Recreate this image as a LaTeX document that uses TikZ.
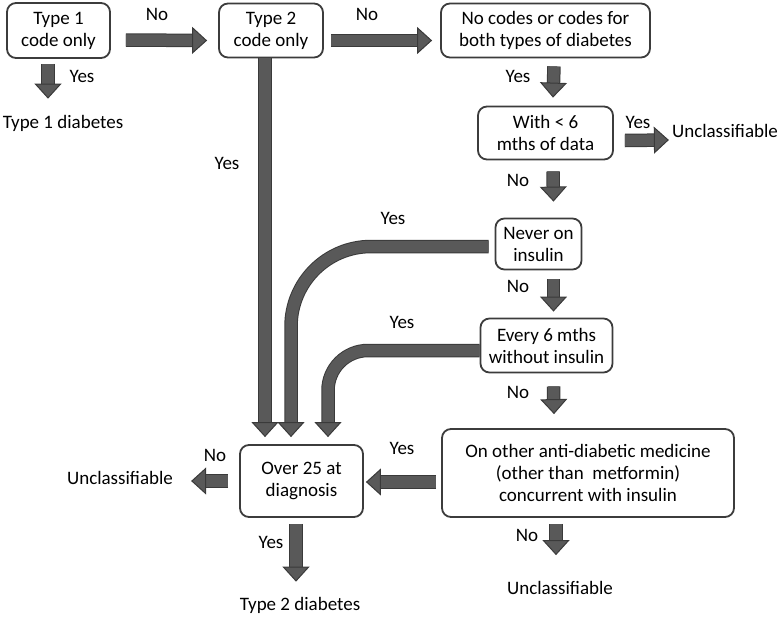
\documentclass[tikz,border=0pt]{standalone}
\usepackage{fontspec}
\setmainfont{Carlito}
\usepackage{tikz}
\usetikzlibrary{arrows.meta}
\definecolor{arrowfill}{HTML}{595959}
\definecolor{arrowline}{HTML}{3A3A3A}
\definecolor{boxline}{HTML}{3C3C3C}

\begin{document}
\begin{tikzpicture}[x=1pt,y=1pt,font=\fontsize{19}{22}\selectfont,
  box/.style={draw=boxline,line width=1.8pt,rounded corners=9pt,align=center,inner sep=0pt},
  lbl/.style={inner sep=0pt},
  flow/.style={draw=arrowfill,line width=11.5pt,
    -{Triangle[width=27pt,length=15pt,line width=1pt,color=arrowline,fill=arrowfill]},
    preaction={draw=arrowline,line width=13.5pt,-,shorten >=14pt}}]

  \useasboundingbox (0,0) rectangle (782,-616);

  \node[box,minimum width=103pt,minimum height=55pt] (t1) at (58.5,-30.5) {Type 1\\code only};
  \node[box,minimum width=104pt,minimum height=54pt] (t2) [right of=t1,node distance=212.5pt] {Type 2\\code only};
  \node[box,minimum width=209pt,minimum height=54pt] (nocodes) [right of=t2,node distance=274.5pt] {No codes or codes for\\both types of diabetes};
  \node[box,minimum width=135pt,minimum height=53pt] (lt6) [below of=nocodes,node distance=102.5pt] {With {<} 6\\mths of data};
  \node[box,minimum width=86pt,minimum height=51pt] (never) [below of=lt6,node distance=111pt,xshift=-7pt] {Never on\\insulin};
  \node[box,minimum width=132pt,minimum height=54pt] (every6) [below of=never,node distance=101.5pt,xshift=8pt] {Every 6 mths\\without insulin};
  \node[box,minimum width=292pt,minimum height=88pt] (other) at (588,-473) {On other anti-diabetic medicine\\(other than\ \ metformin)\\concurrent with insulin};
  \node[box,minimum width=123pt,minimum height=72pt] (over25) at (301.5,-481) {Over 25 at\\diagnosis};

  % outcomes
  \node[lbl] (dm1) at (63,-123) {Type 1 diabetes};
  \node[lbl] (uc1) at (725,-131) {Unclassifiable};
  \node[lbl] (uc2) at (120,-478) {Unclassifiable};
  \node[lbl] (dm2) at (300,-605) {Type 2 diabetes};
  \node[lbl] (uc3) at (560,-588) {Unclassifiable};

  % answers
  \node[lbl] (no1) at (157,-14) {No};
  \node[lbl] (no2) at (367,-14) {No};
  \node[lbl] (yes1) at (82,-76) {Yes};
  \node[lbl] (yes2) at (227,-163) {Yes};
  \node[lbl] (yes3) at (518,-76) {Yes};
  \node[lbl] (yes4) at (638,-122) {Yes};
  \node[lbl] (no3) at (518,-180) {No};
  \node[lbl] (yes5) at (393,-218) {Yes};
  \node[lbl] (no4) at (518,-286) {No};
  \node[lbl] (yes6) at (402,-322) {Yes};
  \node[lbl] (no5) at (518,-392) {No};
  \node[lbl] (yes7) at (402,-448) {Yes};
  \node[lbl] (no6) at (215,-455) {No};
  \node[lbl] (yes8) at (271,-542) {Yes};
  \node[lbl] (no7) at (527,-535) {No};

  \draw[flow] ([xshift=-10.5pt,yshift=-5pt]t1.south) -- ([xshift=-15pt,yshift=16pt]dm1.north);
  \draw[flow] ([xshift=15pt,yshift=-9.5pt]t1.east) -- ([xshift=-11pt,yshift=-10pt]t2.west);
  \draw[flow] ([xshift=7pt,yshift=-10pt]t2.east) -- ([xshift=-8pt,yshift=-10pt]nocodes.west);
  \draw[flow] ([xshift=8.5pt,yshift=-8pt]nocodes.south) -- ([xshift=7.5pt,yshift=8pt]lt6.north);
  \draw[flow] ([xshift=7.5pt,yshift=-11pt]lt6.south) -- ([xshift=15pt,yshift=16pt]never.north);
  \draw[flow] ([xshift=11pt,yshift=-7.5pt]lt6.east) -- ([xshift=-3pt,yshift=-9pt]uc1.west);
  \draw[flow] ([xshift=15pt,yshift=-9pt]never.south) -- ([xshift=7pt,yshift=6pt]every6.north);
  \draw[flow] ([xshift=7pt,yshift=-13pt]every6.south) -- ([xshift=-34pt,yshift=14pt]other.north);
  \draw[flow] ([xshift=-32pt,yshift=-6pt]other.south) -- ([xshift=-4pt,yshift=26pt]uc3.north);
  \draw[flow] ([xshift=-5pt,yshift=-9pt]other.west) -- ([xshift=2pt,yshift=-1pt]over25.east);
  \draw[flow] ([xshift=-11pt]over25.west) -- ([xshift=18pt,yshift=-3pt]uc2.east);
  \draw[flow] ([xshift=-5.5pt,yshift=-6pt]over25.south) -- ([xshift=-4pt,yshift=15pt]dm2.north);
  \draw[flow] ([xshift=-6pt]t2.south) -- ([xshift=-36.5pt,yshift=7pt]over25.north);
  \draw[flow,rounded corners=80pt] ([xshift=-6pt,yshift=-2.5pt]never.west) -| ([xshift=-10.5pt,yshift=7pt]over25.north);
  \draw[flow,rounded corners=40pt] ([yshift=-5pt]every6.west) -| ([xshift=26.5pt,yshift=7pt]over25.north);

\end{tikzpicture}
\end{document}
